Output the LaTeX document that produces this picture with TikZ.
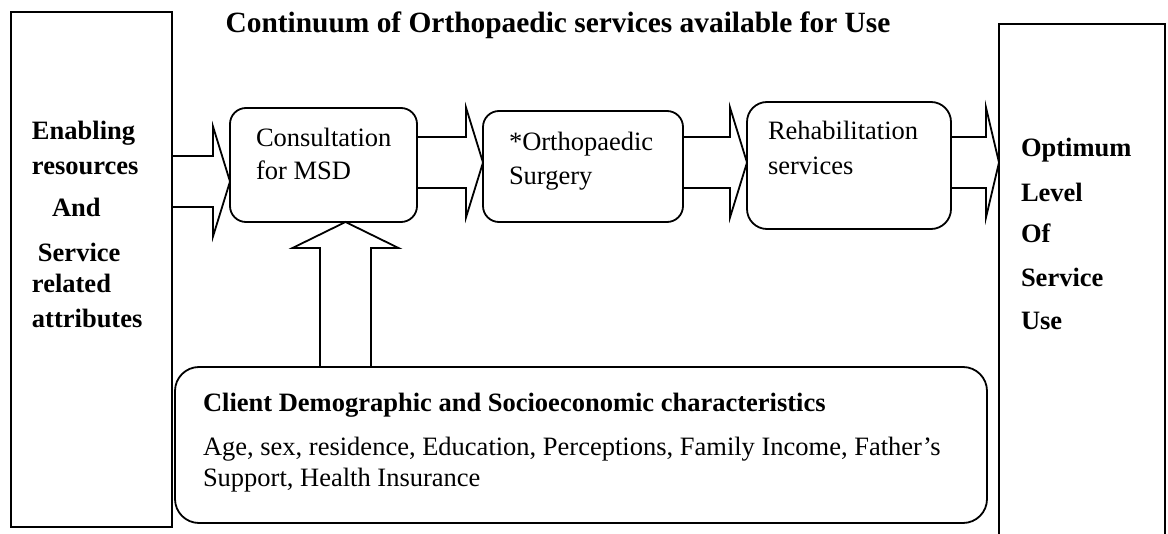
\documentclass[tikz,border=0pt]{standalone}
\usepackage{fontspec}
\setmainfont{Liberation Serif}
\usetikzlibrary{calc,fit}

% horizontal block arrow: from node, to node, y level, head length
\newcommand\flowarrow[4]{%
  \path (0,#3) coordinate (fa-y);
  \path (#1.east |- fa-y) coordinate (fa-s) (#2.west |- fa-y) coordinate (fa-e);
  \draw[blockarrow] ($(fa-s)+(0,-25.5)$) -- ($(fa-e)+(-#4,-25.5)$) -- ($(fa-e)+(-#4,-55)$)
    -- (fa-e) -- ($(fa-e)+(-#4,55)$) -- ($(fa-e)+(-#4,25.5)$) -- ($(fa-s)+(0,25.5)$);}

\begin{document}
\begin{tikzpicture}[x=0.5pt,y=-0.5pt,
  every node/.style={inner sep=0pt, outer sep=0pt},
  txt/.style={anchor=base west, font=\fontsize{13.25}{16}\selectfont},
  btxt/.style={anchor=base west, font=\fontsize{13.25}{16}\selectfont\bfseries},
  frame/.style={draw, line width=0.9pt},
  stage/.style={draw, line width=0.9pt, rounded corners=8pt},
  blockarrow/.style={draw, line width=0.9pt, line join=miter}]
\useasboundingbox (0,0) rectangle (1168,534);

% title
\node[anchor=base, font=\fontsize{14.7}{17}\selectfont\bfseries] (title) at (558,33)
  {Continuum of Orthopaedic services available for Use};

% side frames
\node[frame, fit={(11,12) (172,527)}] (enable) {};
\node[fit={(999,24) (1165,534)}] (outcome) {};
\draw[line width=0.9pt] (outcome.south west) -- (outcome.north west) -- (outcome.north east) -- (outcome.south east);

% service stages
\node[stage, fit={(230,108) (417,222)}] (consult) {};
\node[stage, fit={(483,111) (683,222)}] (surgery) {};
\node[stage, rounded corners=10pt, fit={(747,102) (951,229)}] (rehab) {};
\node[stage, rounded corners=12pt, fit={(175,367) (987,523)}] (client) {};

% left column text
\node[btxt] (e1) at (32,140) {Enabling};
\node[btxt] (e2) at (32,175) {resources};
\node[btxt] (e3) at (52,217) {And};
\node[btxt] (e4) at (38,262) {Service};
\node[btxt] (e5) at (32,293) {related};
\node[btxt] (e6) at (32,328) {attributes};

% right column text
\node[btxt] (o1) at (1021,157) {Optimum};
\node[btxt] (o2) at (1021,202) {Level};
\node[btxt] (o3) at (1021,243) {Of};
\node[btxt] (o4) at (1021,287) {Service};
\node[btxt] (o5) at (1021,330) {Use};

% stage text
\node[txt] (c1) at (256,147) {Consultation};
\node[txt] (c2) at (256,180) {for MSD};
\node[txt] (s1) at (509,151) {*Orthopaedic};
\node[txt] (s2) at (509,185) {Surgery};
\node[txt] (r1) at (768,140) {Rehabilitation};
\node[txt] (r2) at (768,175) {services};

% client characteristics
\node[btxt] (d1) at (203,411) {Client Demographic and Socioeconomic characteristics};
\node[txt] (d2) at (203,455) {Age, sex, residence, Education, Perceptions, Family Income, Father’s};
\node[txt] (d3) at (203,487) {Support, Health Insurance};

% block arrows along the continuum
\flowarrow{enable}{consult}{181.5}{17}
\flowarrow{consult}{surgery}{162.5}{17}
\flowarrow{surgery}{rehab}{162.5}{17}
\flowarrow{rehab}{outcome}{162.5}{13}

% upward block arrow from client characteristics to consultation
\path (345.5,0) coordinate (va-x);
\path (client.north -| va-x) coordinate (va-s) (consult.south -| va-x) coordinate (va-e);
\draw[blockarrow] ($(va-s)+(-25.5,0)$) -- ($(va-e)+(-25.5,26)$) -- ($(va-e)+(-53,26)$)
  -- (va-e) -- ($(va-e)+(53,26)$) -- ($(va-e)+(25.5,26)$) -- ($(va-s)+(25.5,0)$);
\end{tikzpicture}
\end{document}
